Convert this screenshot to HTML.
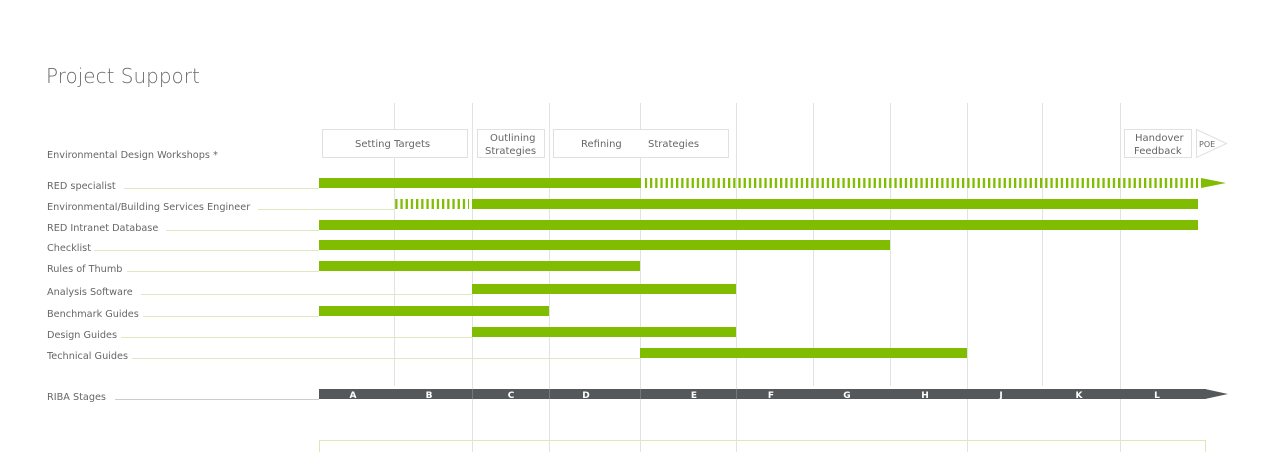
<!DOCTYPE html>
<html><head><meta charset="utf-8"><style>
body{margin:0;background:#fff;}
svg text{font-family:"DejaVu Sans","Liberation Sans",sans-serif;fill:#666;}
</style></head><body>
<svg width="1280" height="452" viewBox="0 0 1280 452" xmlns="http://www.w3.org/2000/svg">
<defs>
<pattern id="dash" x="0" y="0" width="5.2" height="10" patternUnits="userSpaceOnUse">
<rect x="0" y="0" width="2.3" height="10" fill="#80bc00"/>
</pattern>
</defs>
<text x="46" y="83" font-size="20" style="fill:#6a6a6a;font-weight:300">Project Support</text>
<g stroke="#e2e2e2" stroke-width="1">
<line x1="394.5" y1="103" x2="394.5" y2="386"/>
<line x1="472.5" y1="103" x2="472.5" y2="452"/>
<line x1="549.5" y1="103" x2="549.5" y2="452"/>
<line x1="640.5" y1="103" x2="640.5" y2="452"/>
<line x1="736.5" y1="103" x2="736.5" y2="452"/>
<line x1="813.5" y1="103" x2="813.5" y2="386"/>
<line x1="890.5" y1="103" x2="890.5" y2="386"/>
<line x1="967.5" y1="103" x2="967.5" y2="452"/>
<line x1="1042.5" y1="103" x2="1042.5" y2="386"/>
<line x1="1120.5" y1="103" x2="1120.5" y2="452"/>
</g>
<g fill="#fff" stroke="#e0e0e0">
<rect x="322.5" y="129.5" width="145" height="28"/>
<rect x="477.5" y="129.5" width="67" height="28"/>
<rect x="553.5" y="129.5" width="175" height="28"/>
<rect x="1124.5" y="129.5" width="67" height="28"/>
<polygon points="1196.5,129.5 1226.5,143.5 1196.5,157.5"/>
</g>
<g font-size="10" style="fill:#777">
<text x="355" y="147">Setting  Targets</text>
<text x="490" y="141">Outlining</text>
<text x="485" y="154">Strategies</text>
<text x="581" y="147">Refining</text>
<text x="648" y="147">Strategies</text>
<text x="1135" y="141">Handover</text>
<text x="1134" y="154">Feedback</text>
<text x="1199" y="147" font-size="8">POE</text>
</g>
<g font-size="9.7" style="fill:#666">
<text x="47" y="158">Environmental Design Workshops *</text>
<text x="47" y="189">RED specialist</text>
<text x="47" y="210">Environmental/Building Services  Engineer</text>
<text x="47" y="231">RED Intranet Database</text>
<text x="47" y="251">Checklist</text>
<text x="47" y="272">Rules of Thumb</text>
<text x="47" y="295">Analysis Software</text>
<text x="47" y="317">Benchmark Guides</text>
<text x="47" y="338">Design Guides</text>
<text x="47" y="359">Technical Guides</text>
<text x="47" y="400">RIBA Stages</text>
</g>
<g stroke="#dfe8c0" stroke-width="1">
<line x1="124" y1="188.5" x2="319" y2="188.5"/>
<line x1="258" y1="209.5" x2="395" y2="209.5"/>
<line x1="166" y1="230.5" x2="319" y2="230.5"/>
<line x1="94" y1="250.5" x2="319" y2="250.5"/>
<line x1="127" y1="271.5" x2="319" y2="271.5"/>
<line x1="141" y1="294.5" x2="472" y2="294.5"/>
<line x1="143" y1="316.5" x2="319" y2="316.5"/>
<line x1="121" y1="337.5" x2="472" y2="337.5"/>
<line x1="132" y1="358.5" x2="640" y2="358.5"/>
</g>
<line x1="115" y1="399.5" x2="319" y2="399.5" stroke="#ccc"/>
<g fill="#80bc00">
<rect x="319" y="178" width="322" height="10"/>
<rect x="645" y="178" width="553" height="10" fill="url(#dash)"/>
<polygon points="1201,178 1226,183 1201,188"/>
<rect x="395" y="199" width="74" height="10" fill="url(#dash)"/>
<rect x="472" y="199" width="726" height="10"/>
<rect x="319" y="220" width="879" height="10"/>
<rect x="319" y="240" width="571" height="10"/>
<rect x="319" y="261" width="321" height="10"/>
<rect x="472" y="284" width="264" height="10"/>
<rect x="319" y="306" width="230" height="10"/>
<rect x="472" y="327" width="264" height="10"/>
<rect x="640" y="348" width="327" height="10"/>
</g>
<rect x="319" y="389" width="887" height="10" fill="#55585a"/>
<polygon points="1205,389 1228,394 1205,399" fill="#55585a"/>
<g stroke="#777" stroke-width="1"><line x1="472.5" y1="389" x2="472.5" y2="399"/><line x1="549.5" y1="389" x2="549.5" y2="399"/><line x1="640.5" y1="389" x2="640.5" y2="399"/><line x1="736.5" y1="389" x2="736.5" y2="399"/></g>
<g font-size="9" font-weight="bold" text-anchor="middle">
<text x="353" y="398" style="fill:#fff">A</text>
<text x="429" y="398" style="fill:#fff">B</text>
<text x="511" y="398" style="fill:#fff">C</text>
<text x="586" y="398" style="fill:#fff">D</text>
<text x="694" y="398" style="fill:#fff">E</text>
<text x="771" y="398" style="fill:#fff">F</text>
<text x="847" y="398" style="fill:#fff">G</text>
<text x="925" y="398" style="fill:#fff">H</text>
<text x="1001" y="398" style="fill:#fff">J</text>
<text x="1079" y="398" style="fill:#fff">K</text>
<text x="1157" y="398" style="fill:#fff">L</text>
</g>
<g stroke="#dde8b8" fill="none">
<path d="M319.5 452 V440.5 H1205.5 V452"/>
</g>
</svg>
</body></html>
